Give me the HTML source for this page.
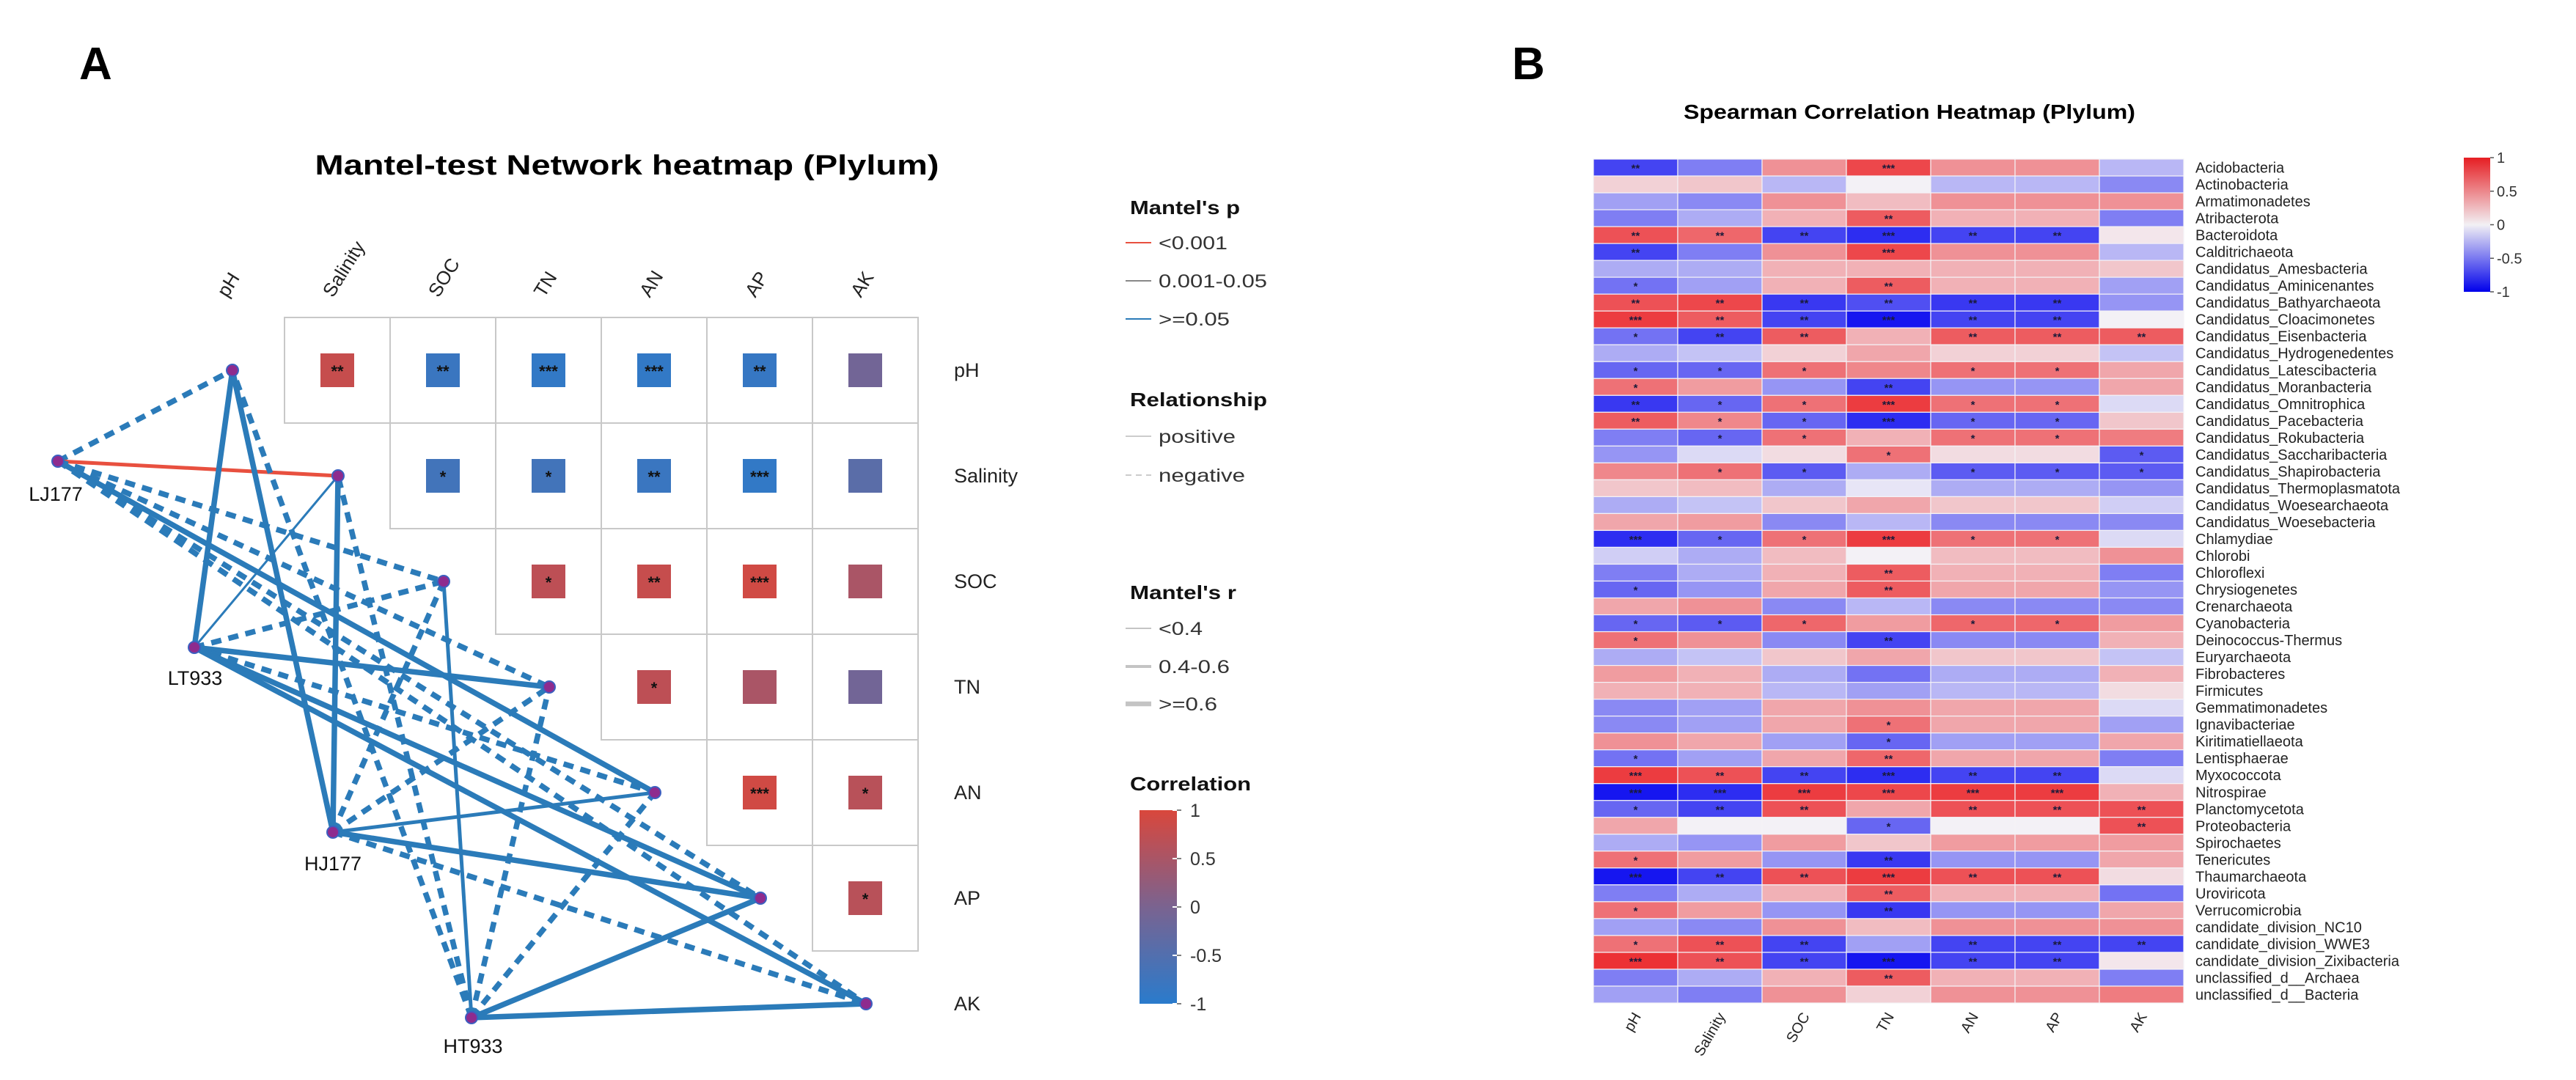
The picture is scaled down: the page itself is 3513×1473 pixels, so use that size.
<!DOCTYPE html>
<html><head><meta charset="utf-8">
<style>
html,body{margin:0;padding:0;background:#fff;}
svg{display:block;font-family:"Liberation Sans",Arial,sans-serif;}
</style></head>
<body>
<svg id="fig" width="3513" height="1473" viewBox="0 0 3513 1473" xmlns="http://www.w3.org/2000/svg">
<rect width="3513" height="1473" fill="#fff"/>
<text x="108" y="108" font-size="62" font-weight="bold">A</text>
<text x="2062" y="108" font-size="62" font-weight="bold">B</text>
<text x="855" y="238" font-size="38" font-weight="bold" text-anchor="middle" textLength="851" lengthAdjust="spacingAndGlyphs">Mantel-test Network heatmap (Plylum)</text>
<text x="2604" y="162" font-size="28" font-weight="bold" text-anchor="middle" textLength="616" lengthAdjust="spacingAndGlyphs">Spearman Correlation Heatmap (Plylum)</text>
<g id="panelA"></g>
<g id="legendA"></g>
<g id="panelB"></g>
<defs>
<linearGradient id="gradA" x1="0" y1="0" x2="0" y2="1">
<stop offset="0" stop-color="#d9473c"/><stop offset="0.5" stop-color="#7a6390"/><stop offset="1" stop-color="#2a7bcc"/>
</linearGradient>
<linearGradient id="gradB" x1="0" y1="0" x2="0" y2="1">
<stop offset="0" stop-color="#e61e23"/><stop offset="0.5" stop-color="#f2f0f4"/><stop offset="1" stop-color="#0000eb"/>
</linearGradient>
</defs>
</svg>
<script>
// ===== Panel A data =====
const envVars = ["pH","Salinity","SOC","TN","AN","AP","AK"];
const corrA = [
 [null,0.8,-0.8,-0.9,-0.9,-0.85,-0.1],
 [null,null,-0.7,-0.7,-0.8,-0.9,-0.4],
 [null,null,null,0.7,0.8,0.9,0.5],
 [null,null,null,null,0.7,0.5,-0.1],
 [null,null,null,null,null,0.9,0.65],
 [null,null,null,null,null,null,0.65]
];
const starsA = [
 ["","**","**","***","***","**",""],
 ["","","*","*","**","***",""],
 ["","","","*","**","***",""],
 ["","","","","*","",""],
 ["","","","","","***","*"],
 ["","","","","","","*"]
];
const sites = ["LJ177","LT933","HJ177","HT933"];
const edgeSite = [0,0,0,0,0,0,0, 1,1,1,1,1,1,1, 2,2,2,2,2,2,2, 3,3,3,3,3,3,3];
const edgeEnv  = [0,1,2,3,4,5,6, 0,1,2,3,4,5,6, 0,1,2,3,4,5,6, 0,1,2,3,4,5,6];
const edgeSign = ["neg","pos","neg","neg","pos","neg","neg", "pos","pos","neg","pos","neg","pos","pos", "pos","pos","neg","neg","pos","pos","neg", "neg","neg","pos","neg","neg","pos","pos"];
const edgeR    = [2,1,2,2,2,2,2, 2,0,2,2,2,2,2, 2,2,2,2,1,2,2, 2,2,1,2,2,2,2];
const edgeP    = [2,0,2,2,2,2,2, 2,2,2,2,2,2,2, 2,2,2,2,2,2,2, 2,2,2,2,2,2,2];

// ===== Panel B data =====
const taxa = ["Acidobacteria","Actinobacteria","Armatimonadetes","Atribacterota","Bacteroidota","Calditrichaeota","Candidatus_Amesbacteria","Candidatus_Aminicenantes","Candidatus_Bathyarchaeota","Candidatus_Cloacimonetes","Candidatus_Eisenbacteria","Candidatus_Hydrogenedentes","Candidatus_Latescibacteria","Candidatus_Moranbacteria","Candidatus_Omnitrophica","Candidatus_Pacebacteria","Candidatus_Rokubacteria","Candidatus_Saccharibacteria","Candidatus_Shapirobacteria","Candidatus_Thermoplasmatota","Candidatus_Woesearchaeota","Candidatus_Woesebacteria","Chlamydiae","Chlorobi","Chloroflexi","Chrysiogenetes","Crenarchaeota","Cyanobacteria","Deinococcus-Thermus","Euryarchaeota","Fibrobacteres","Firmicutes","Gemmatimonadetes","Ignavibacteriae","Kiritimatiellaeota","Lentisphaerae","Myxococcota","Nitrospirae","Planctomycetota","Proteobacteria","Spirochaetes","Tenericutes","Thaumarchaeota","Uroviricota","Verrucomicrobia","candidate_division_NC10","candidate_division_WWE3","candidate_division_Zixibacteria","unclassified_d__Archaea","unclassified_d__Bacteria"];
const colsB = ["pH","Salinity","SOC","TN","AN","AP","AK"];
const valsB = [
[-0.75,-0.5,0.45,0.8,0.45,0.45,-0.25],
[0.15,0.2,-0.25,0.0,-0.25,-0.25,-0.45],
[-0.35,-0.45,0.45,0.25,0.45,0.45,0.45],
[-0.5,-0.3,0.3,0.7,0.3,0.3,-0.5],
[0.75,0.65,-0.75,-0.85,-0.75,-0.75,0.05],
[-0.75,-0.5,0.45,0.8,0.45,0.45,-0.25],
[-0.3,-0.3,0.3,0.3,0.3,0.3,0.2],
[-0.55,-0.35,0.3,0.7,0.3,0.3,-0.35],
[0.75,0.8,-0.8,-0.7,-0.8,-0.8,-0.4],
[0.85,0.7,-0.75,-0.95,-0.75,-0.75,0.0],
[-0.55,-0.75,0.7,0.3,0.7,0.7,0.7],
[-0.3,-0.2,0.15,0.35,0.15,0.15,-0.2],
[-0.6,-0.6,0.6,0.5,0.6,0.6,0.35],
[0.6,0.4,-0.4,-0.75,-0.4,-0.4,0.35],
[-0.8,-0.6,0.6,0.85,0.6,0.6,-0.1],
[0.7,0.5,-0.6,-0.85,-0.6,-0.6,0.2],
[-0.5,-0.6,0.6,0.3,0.6,0.6,0.55],
[-0.4,-0.1,0.1,0.6,0.1,0.1,-0.65],
[0.5,0.6,-0.65,-0.3,-0.65,-0.65,-0.65],
[0.2,0.25,-0.3,-0.05,-0.3,-0.3,-0.4],
[-0.3,-0.2,0.2,0.35,0.2,0.2,-0.15],
[0.35,0.4,-0.45,-0.25,-0.45,-0.45,-0.45],
[-0.85,-0.6,0.6,0.85,0.6,0.6,-0.1],
[-0.15,-0.3,0.25,0.0,0.25,0.25,0.45],
[-0.5,-0.3,0.3,0.7,0.3,0.3,-0.5],
[-0.6,-0.4,0.35,0.7,0.35,0.35,-0.4],
[0.35,0.45,-0.45,-0.25,-0.45,-0.45,-0.45],
[-0.6,-0.65,0.65,0.4,0.65,0.65,0.4],
[0.6,0.45,-0.45,-0.75,-0.45,-0.45,0.3],
[-0.3,-0.2,0.2,0.35,0.2,0.2,-0.2],
[0.4,0.3,-0.3,-0.55,-0.3,-0.3,0.3],
[0.3,0.3,-0.25,-0.35,-0.25,-0.25,0.1],
[-0.45,-0.35,0.35,0.45,0.35,0.35,-0.1],
[-0.45,-0.35,0.35,0.6,0.35,0.35,-0.35],
[0.45,0.35,-0.35,-0.6,-0.35,-0.35,0.35],
[-0.55,-0.35,0.35,0.65,0.35,0.35,-0.5],
[0.85,0.75,-0.75,-0.85,-0.75,-0.75,-0.1],
[-0.95,-0.85,0.85,0.8,0.85,0.85,0.3],
[-0.6,-0.75,0.75,0.35,0.75,0.75,0.75],
[0.35,0.0,0.0,-0.6,0.0,0.0,0.75],
[-0.3,-0.4,0.4,0.2,0.4,0.4,0.4],
[0.6,0.4,-0.4,-0.8,-0.4,-0.4,0.35],
[-0.95,-0.75,0.75,0.85,0.75,0.75,0.1],
[-0.5,-0.3,0.3,0.7,0.3,0.3,-0.55],
[0.6,0.4,-0.4,-0.8,-0.4,-0.4,0.35],
[-0.35,-0.45,0.45,0.25,0.45,0.45,0.45],
[0.6,0.75,-0.75,-0.35,-0.75,-0.75,-0.75],
[0.9,0.75,-0.75,-0.95,-0.75,-0.75,0.05],
[-0.5,-0.3,0.3,0.7,0.3,0.3,-0.5],
[-0.35,-0.5,0.45,0.15,0.45,0.45,0.55]
];
const starsB = [
["**","","","***","","",""],
["","","","","","",""],
["","","","","","",""],
["","","","**","","",""],
["**","**","**","***","**","**",""],
["**","","","***","","",""],
["","","","","","",""],
["*","","","**","","",""],
["**","**","**","**","**","**",""],
["***","**","**","***","**","**",""],
["*","**","**","","**","**","**"],
["","","","","","",""],
["*","*","*","","*","*",""],
["*","","","**","","",""],
["**","*","*","***","*","*",""],
["**","*","*","***","*","*",""],
["","*","*","","*","*",""],
["","","","*","","","*"],
["","*","*","","*","*","*"],
["","","","","","",""],
["","","","","","",""],
["","","","","","",""],
["***","*","*","***","*","*",""],
["","","","","","",""],
["","","","**","","",""],
["*","","","**","","",""],
["","","","","","",""],
["*","*","*","","*","*",""],
["*","","","**","","",""],
["","","","","","",""],
["","","","","","",""],
["","","","","","",""],
["","","","","","",""],
["","","","*","","",""],
["","","","*","","",""],
["*","","","**","","",""],
["***","**","**","***","**","**",""],
["***","***","***","***","***","***",""],
["*","**","**","","**","**","**"],
["","","","*","","","**"],
["","","","","","",""],
["*","","","**","","",""],
["***","**","**","***","**","**",""],
["","","","**","","",""],
["*","","","**","","",""],
["","","","","","",""],
["*","**","**","","**","**","**"],
["***","**","**","***","**","**",""],
["","","","**","","",""],
["","","","","","",""]
];
const cbTicksB = [1,0.5,0,-0.5,-1];
const cbTicksA = [1,0.5,0,-0.5,-1];

const NS="http://www.w3.org/2000/svg";
function mk(tag,attrs,parent,txt){const e=document.createElementNS(NS,tag);for(const k in attrs)e.setAttribute(k,attrs[k]);if(txt!==undefined)e.textContent=txt;parent.appendChild(e);return e;}
function lerp(a,b,t){return [0,1,2].map(i=>Math.round(a[i]+(b[i]-a[i])*t));}
function col3(v,neg,mid,pos){const c=v>=0?lerp(mid,pos,Math.min(1,v)):lerp(mid,neg,Math.min(1,-v));return `rgb(${c[0]},${c[1]},${c[2]})`;}

// ===== Panel A =====
const A=document.getElementById('panelA');
const colX=j=>316+144*j, rowY=i=>505+144*i, half=72;
for(let i=0;i<6;i++)for(let j=i+1;j<7;j++){
  const g=mk('g',{},A);
  
  
  mk('rect',{x:colX(j)-half,y:rowY(i)-half,width:144,height:144,fill:'#fff',stroke:'#c8c8c8','stroke-width':2},g);
  const v=corrA[i][j];
  mk('rect',{x:colX(j)-23,y:rowY(i)-23,width:46,height:46,fill:col3(v,[42,123,204],[122,99,144],[217,71,60])},g);
  if(starsA[i][j])mk('text',{x:colX(j),y:rowY(i)+9,'font-size':22,'font-weight':'bold','text-anchor':'middle',fill:'#111'},g,starsA[i][j]);
}
envVars.forEach((n,j)=>{const t=mk('text',{x:0,y:0,'font-size':26,transform:`translate(${colX(j)-6},${407}) rotate(-58)`,fill:'#222'},A,n);
 });
envVars.forEach((n,i)=>{const t=mk('text',{x:1301,y:rowY(i)+9,'font-size':27,fill:'#222'},A,n);
 });
const siteXY=[[79,629],[265,883],[454,1135],[643,1388]];
const envXY=envVars.map((n,i)=>[colX(i)+1,rowY(i)]);
const widths=[3,5,7.5];
const pCols=['#e8503f','#8c8c8c','#2b7bb9'];
const eg=mk('g',{},A);
for(let k=0;k<edgeSite.length;k++){
  const s=siteXY[edgeSite[k]], e=envXY[edgeEnv[k]];
  const a={x1:s[0],y1:s[1],x2:e[0],y2:e[1],stroke:pCols[edgeP[k]],'stroke-width':widths[edgeR[k]]};
  if(edgeSign[k]==='neg')a['stroke-dasharray']='14 10';
  const l=mk('line',a,eg);
  
  
}
envXY.forEach((p,i)=>{const c=mk('circle',{cx:p[0],cy:p[1],r:8,fill:'#8e2b8e',stroke:'#3c5fc0','stroke-width':2},A);
 });
const labOff=[[-3,45],[1,42],[0,43],[2,39]];
siteXY.forEach((p,i)=>{const c=mk('circle',{cx:p[0],cy:p[1],r:8,fill:'#8e2b8e',stroke:'#3c5fc0','stroke-width':2},A);
 
 const t=mk('text',{x:p[0]+labOff[i][0],y:p[1]+labOff[i][1]+9,'font-size':27,'text-anchor':'middle',fill:'#111'},A,sites[i]);
 });

// ===== Legend A =====
const L=document.getElementById('legendA');
function ltitle(txt,y,w){const t=mk('text',{x:1541,y:y+9,'font-size':26,'font-weight':'bold',textLength:w,lengthAdjust:'spacingAndGlyphs',fill:'#111'},L,txt);
 }
function litem(txt,y,col,w,dash,tw){const g=mk('g',{},L);
 
 const a={x1:1535,y1:y,x2:1570,y2:y,stroke:col,'stroke-width':w};if(dash)a['stroke-dasharray']='8 6';mk('line',a,g);
 mk('text',{x:1580,y:y+9,'font-size':25,textLength:tw,lengthAdjust:'spacingAndGlyphs',fill:'#333'},g,txt);}
ltitle("Mantel's p",283,150);
litem("<0.001",331,'#e8503f',2,false,94);
litem("0.001-0.05",383,'#888',2,false,148);
litem(">=0.05",435,'#2b7bb9',2,false,97);
ltitle("Relationship",545,187);
litem("positive",595,'#ccc',2,false,105);
litem("negative",648,'#ccc',2,true,118);
ltitle("Mantel's r",808,145);
litem("<0.4",857,'#c4c4c4',2,false,60);
litem("0.4-0.6",909,'#c4c4c4',4,false,97);
litem(">=0.6",960,'#c4c4c4',6.5,false,80);
ltitle("Correlation",1069,165);
const cbA=mk('rect',{x:1554,y:1105,width:51,height:264,fill:'url(#gradA)'},L);

cbTicksA.forEach(v=>{const y=1105+(1-v)/2*264;
 mk('line',{x1:1599,x2:1605,y1:y,y2:y,stroke:'#fff','stroke-width':2},L);
 mk('line',{x1:1605,x2:1611,y1:y,y2:y,stroke:'#555','stroke-width':1.5},L);
 const t=mk('text',{x:1623,y:y+9,'font-size':25,fill:'#333'},L,String(v));
 });

// ===== Panel B =====
const B=document.getElementById('panelB');
const hx0=2173,hy0=217,cw=115,rh=1151/taxa.length;
const colB=v=>col3(v,[10,10,240],[243,241,246],[235,28,32]);
taxa.forEach((name,r)=>{
  colsB.forEach((cn,c)=>{
    const x=hx0+c*cw,y=hy0+r*rh;
    const rc=mk('rect',{x:x,y:y,width:cw,height:rh,fill:colB(valsB[r][c]),stroke:'#f4f2f6','stroke-width':1.2},B);
    
    if(starsB[r][c]){const t=mk('text',{x:x+cw/2,y:y+rh/2+6,'font-size':15,'font-weight':'bold','text-anchor':'middle',fill:'#1a1a3a'},B,starsB[r][c]);
      }
  });
  const t=mk('text',{x:2994,y:hy0+r*rh+rh/2+7,'font-size':20,fill:'#222'},B,name);
  
});
colsB.forEach((cn,c)=>{const t=mk('text',{x:0,y:0,'font-size':20,'text-anchor':'end',fill:'#222',transform:`translate(${hx0+c*cw+cw/2+8},${hy0+1151+18}) rotate(-60)`},B,cn);
 });
const cbB=mk('rect',{x:3360,y:215,width:36,height:183,fill:'url(#gradB)'},B);

cbTicksB.forEach(v=>{const y=215+(1-v)/2*183;
 mk('line',{x1:3396,x2:3401,y1:y,y2:y,stroke:'#555','stroke-width':1.5},B);
 const t=mk('text',{x:3405,y:y+7,'font-size':20,fill:'#333'},B,String(v));
 });
</script>
</body></html>
